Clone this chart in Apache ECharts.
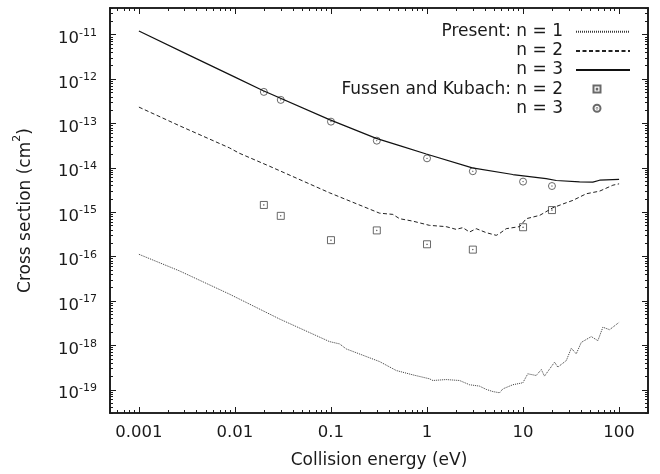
<!DOCTYPE html>
<html>
<head>
<meta charset="utf-8">
<script src="https://cdn.jsdelivr.net/npm/echarts@6/dist/echarts.min.js"></script>
<style>html,body{margin:0;padding:0;background:#fff;}#c{width:660px;height:474px;}</style>
</head>
<body>
<div id="c"></div>
<script>
// ---- data ----
const energyN1 = [0.001, 0.00264, 0.00877, 0.0291, 0.0964, 0.123, 0.144, 0.32, 0.478, 0.711, 1.06, 1.15, 1.58, 2.18, 2.77, 3.52, 4.14, 4.85, 5.69, 6.17, 7.83, 9.95, 11.2, 13.7, 15.5, 16.7, 21.3, 23.0, 28.2, 31.8, 35.8, 40.4, 51.3, 60.1, 67.8, 79.6, 100];
const sigmaN1 = [1.13e-16, 4.78e-17, 1.43e-17, 3.94e-18, 1.22e-18, 1.08e-18, 8.34e-19, 4.33e-19, 2.72e-19, 2.17e-19, 1.77e-19, 1.62e-19, 1.70e-19, 1.62e-19, 1.30e-19, 1.21e-19, 1.02e-19, 9.12e-20, 8.57e-20, 1.05e-19, 1.30e-19, 1.44e-19, 2.29e-19, 2.10e-19, 2.86e-19, 2.03e-19, 4.20e-19, 3.24e-19, 4.55e-19, 8.65e-19, 6.46e-19, 1.17e-18, 1.58e-18, 1.28e-18, 2.57e-18, 2.26e-18, 3.31e-18];

const energyN2 = [0.001, 0.00264, 0.00877, 0.0111, 0.0229, 0.0964, 0.32, 0.441, 0.518, 0.711, 1.06, 1.58, 2.01, 2.36, 2.77, 3.25, 4.14, 5.26, 5.69, 6.68, 9.2, 10.8, 14.9, 20.4, 28.2, 33.0, 45.5, 62.7, 86.1, 100];
const sigmaN2 = [2.34e-13, 8.91e-14, 2.82e-14, 2.14e-14, 1.09e-14, 2.75e-15, 9.55e-16, 8.95e-16, 7.16e-16, 6.31e-16, 5.07e-16, 4.74e-16, 4.12e-16, 4.50e-16, 3.58e-16, 4.27e-16, 3.47e-16, 3.02e-16, 3.31e-16, 4.27e-16, 4.74e-16, 7.16e-16, 8.51e-16, 1.26e-15, 1.64e-15, 1.85e-15, 2.61e-15, 2.99e-15, 4.07e-15, 4.37e-15];

const energyN3 = [0.001, 0.00316, 0.01, 0.0195, 0.0964, 0.296, 0.518, 0.982, 2.96, 7.83, 17.4, 22.2, 38.8, 53.3, 62.7, 100];
const sigmaN3 = [1.21e-11, 3.66e-12, 1.11e-12, 5.53e-13, 1.22e-13, 4.62e-14, 3.17e-14, 2.05e-14, 1.0e-14, 7.08e-15, 5.75e-15, 5.19e-15, 4.84e-15, 4.79e-15, 5.27e-15, 5.5e-15];

const expEnergy = [0.02, 0.03, 0.1, 0.3, 1, 3, 10, 20];
const expSigmaN2 = [1.46e-15, 8.3e-16, 2.35e-16, 3.9e-16, 1.9e-16, 1.44e-16, 4.6e-16, 1.12e-15];
const expSigmaN3 = [5.15e-13, 3.4e-13, 1.1e-13, 4.1e-14, 1.64e-14, 8.4e-15, 4.9e-15, 3.9e-15];

const xTickValues = [0.001, 0.01, 0.1, 1, 10, 100];
const xTickLabels = ['0.001', '0.01', '0.1', '1', '10', '100'];
const yTickExponents = [-11, -12, -13, -14, -15, -16, -17, -18, -19];

const seriesNames = ['Present: n = 1', 'Present: n = 2', 'Present: n = 3', 'Fussen and Kubach: n = 2', 'Fussen and Kubach: n = 3'];
const legendLabels = ['Present: n = 1', 'n = 2', 'n = 3', 'Fussen and Kubach: n = 2', 'n = 3'];

const xAxisTitle = 'Collision energy (eV)';
const yAxisTitle = '{t|Cross section (cm}{u|2}{t|)}';

// ---- layout helpers (not data) ----
const X_MIN = 0.0005, X_MAX = 200, Y_MIN = 3e-20, Y_MAX = 4e-11;
const yTickValues = yTickExponents.map(e => Number('1e' + e));
function minorTicks(lo, hi, kLo, kHi) {
  const out = [];
  for (let k = kLo; k <= kHi; k++) {
    for (let m = 2; m <= 9; m++) {
      const v = Number(m + 'e' + k);
      if (v >= lo && v <= hi) out.push(v);
    }
  }
  return out;
}
const xMinor = minorTicks(X_MIN, X_MAX, -4, 2);
const yMinor = minorTicks(Y_MIN, Y_MAX, -21, -11);

const INK = '#1a1a1a';
const FONT = 'DejaVu Sans';
const axisLine = { show: true, onZero: false, lineStyle: { color: INK, width: 1.6 } };

function xAx(position, major, showLabel) {
  return {
    type: 'log', logBase: 10, min: X_MIN, max: X_MAX, position: position,
    axisLine: axisLine,
    splitLine: { show: false }, minorTick: { show: false }, minorSplitLine: { show: false },
    axisTick: { show: true, inside: true, length: major ? 6 : 3, lineStyle: { color: INK, width: 1 },
      customValues: major ? xTickValues : xMinor },
    axisLabel: showLabel ? {
      show: true, margin: 11, fontSize: 16.5, color: INK, fontFamily: FONT,
      customValues: xTickValues,
      formatter: function (v) {
        const i = xTickValues.findIndex(t => Math.abs(Math.log10(t) - Math.log10(v)) < 1e-6);
        return i >= 0 ? xTickLabels[i] : '';
      }
    } : { show: false },
    name: showLabel ? xAxisTitle : '', nameLocation: 'middle', nameGap: 39,
    nameTextStyle: { fontSize: 17, color: INK, fontFamily: FONT }
  };
}
function yAx(position, major, showLabel) {
  return {
    type: 'log', logBase: 10, min: Y_MIN, max: Y_MAX, position: position,
    axisLine: axisLine,
    splitLine: { show: false }, minorTick: { show: false }, minorSplitLine: { show: false },
    axisTick: { show: true, inside: true, length: major ? 6 : 3, lineStyle: { color: INK, width: 1 },
      customValues: major ? yTickValues : yMinor },
    axisLabel: showLabel ? {
      show: true, margin: 13, color: INK, fontFamily: FONT, padding: [5.6, 0, 0, 0],
      customValues: yTickValues,
      formatter: function (v) {
        const e = Math.round(Math.log10(v));
        return '{b|10}{s|-' + Math.abs(e) + '}';
      },
      rich: {
        b: { fontSize: 16.5, lineHeight: 20, verticalAlign: 'bottom', color: INK, fontFamily: FONT },
        s: { fontSize: 11, lineHeight: 4, verticalAlign: 'top', color: INK, fontFamily: FONT }
      }
    } : { show: false },
    name: showLabel ? yAxisTitle : '', nameLocation: 'middle', nameGap: 76, nameRotate: 90,
    nameTextStyle: {
      color: INK, fontFamily: FONT,
      rich: {
        t: { fontSize: 17, lineHeight: 22, verticalAlign: 'bottom', color: INK, fontFamily: FONT },
        u: { fontSize: 11, lineHeight: 6, verticalAlign: 'top', color: INK, fontFamily: FONT }
      }
    }
  };
}

const zip = (xs, ys) => xs.map((x, i) => [x, ys[i]]);

const squareDot = 'path://M0,0 L10,0 L10,10 L0,10 Z M4.6,4.6 L5.4,4.6 L5.4,5.4 L4.6,5.4 Z';
const circleDot = 'path://M10,5 A5,5 0 1,1 0,5 A5,5 0 1,1 10,5 Z M5.4,5 A0.4,0.4 0 1,1 4.6,5 A0.4,0.4 0 1,1 5.4,5 Z';

const rowCenters = [31.8, 50.9, 70.0, 89.1, 108.2];

const option = {
  animation: false,
  backgroundColor: '#fff',
  textStyle: { fontFamily: FONT },
  grid: { left: 110, top: 8, right: 12, bottom: 60, containLabel: false },
  xAxis: [xAx('bottom', true, true), xAx('bottom', false, false), xAx('top', true, false), xAx('top', false, false)],
  yAxis: [yAx('left', true, true), yAx('left', false, false), yAx('right', true, false), yAx('right', false, false)],
  legend: seriesNames.map((nm, i) => {
    const isLine = i < 3;
    const lg = {
      data: [nm], formatter: legendLabels[i], orient: 'vertical', align: 'right',
      right: isLine ? 29 : 58.5, top: rowCenters[i] - 9, padding: 0,
      itemWidth: isLine ? 54 : 7, itemHeight: isLine ? 12 : 7, selectedMode: false,
      textStyle: { fontSize: 17, lineHeight: 18, color: INK, fontFamily: FONT, padding: [0, isLine ? 8 : 25.5, 0, 0] }
    };
    if (isLine) lg.itemStyle = { opacity: 0, color: 'rgba(0,0,0,0)', borderWidth: 0 };
    return lg;
  }),
  series: [
    { name: seriesNames[0], type: 'line', data: zip(energyN1, sigmaN1), symbol: 'none', showSymbol: false,
      lineStyle: { color: '#3a3a3a', width: 1, type: [1, 1] }, itemStyle: { color: '#3a3a3a' } },
    { name: seriesNames[1], type: 'line', data: zip(energyN2, sigmaN2), symbol: 'none', showSymbol: false,
      lineStyle: { color: '#222', width: 1, type: [4, 2.5] }, itemStyle: { color: '#222' } },
    { name: seriesNames[2], type: 'line', data: zip(energyN3, sigmaN3), symbol: 'none', showSymbol: false,
      lineStyle: { color: '#111', width: 1.2, type: 'solid' }, itemStyle: { color: '#111' } },
    { name: seriesNames[3], type: 'scatter', data: zip(expEnergy, expSigmaN2), symbol: squareDot, symbolSize: 7,
      itemStyle: { color: 'rgba(0,0,0,0)', borderColor: '#444', borderWidth: 1 } },
    { name: seriesNames[4], type: 'scatter', data: zip(expEnergy, expSigmaN3), symbol: circleDot, symbolSize: 7,
      itemStyle: { color: 'rgba(0,0,0,0)', borderColor: '#444', borderWidth: 1 } }
  ]
};

const chart = echarts.init(document.getElementById('c'), null, { renderer: 'canvas' });
chart.setOption(option);
</script>
</body>
</html>
